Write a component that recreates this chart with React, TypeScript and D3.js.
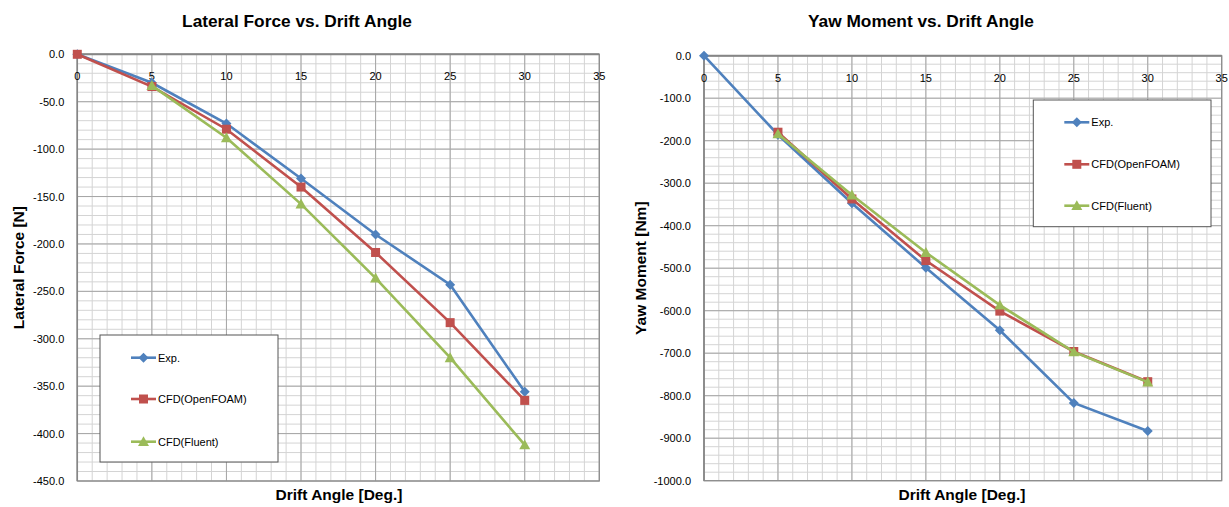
import React, { useEffect } from "react";
import * as d3 from "d3";

// ---------- data ----------
const driftAngles = [0, 5, 10, 15, 20, 25, 30];
const fluentAngles = [5, 10, 15, 20, 25, 30];

const lateralExp = [0, -30, -73, -131, -190, -243, -356];
const lateralOpenFOAM = [0, -34, -79, -140, -209, -283, -365];
const lateralFluent = [-33, -88, -158, -236, -320, -412];

const yawAngles = [5, 10, 15, 20, 25, 30];
const yawExp = [0, -186, -347, -499, -646, -817, -883];
const yawOpenFOAM = [-180, -337, -482, -601, -696, -767];
const yawFluent = [-184, -328, -463, -587, -697, -768];

const xTicks = [0, 5, 10, 15, 20, 25, 30, 35];
const lateralYTicks = [0, -50, -100, -150, -200, -250, -300, -350, -400, -450];
const yawYTicks = [0, -100, -200, -300, -400, -500, -600, -700, -800, -900, -1000];

const seriesNames = ["Exp.", "CFD(OpenFOAM)", "CFD(Fluent)"];
const colors = ["#4F81BD", "#C0504D", "#9BBB59"];

type Series = { name: string; xs: number[]; ys: number[]; color: string; marker: string };

const FONT = "'Liberation Sans', Arial, sans-serif";

function Marker({ kind, x, y, color }: { kind: string; x: number; y: number; color: string }) {
  if (kind === "diamond") {
    const r = 5;
    return <path d={`M${x},${y - r}L${x + r},${y}L${x},${y + r}L${x - r},${y}Z`} fill={color} />;
  }
  if (kind === "square") {
    const r = 4.5;
    return <rect x={x - r} y={y - r} width={2 * r} height={2 * r} fill={color} />;
  }
  const r = 5.5;
  return <path d={`M${x},${y - r}L${x + r},${y + r * 0.8}L${x - r},${y + r * 0.8}Z`} fill={color} />;
}

function Chart(props: {
  title: string; titleX: number; yLabel: string; yLabelX: number; xLabelX: number;
  x0: number; x1: number; y0: number; y1: number; yMin: number; yTicks: number[]; yMinor: number;
  series: Series[]; legend: { x: number; y: number; w: number; h: number; rows: number[] };
}) {
  const { x0, x1, y0, y1, yMin, yTicks, yMinor, series, legend } = props;
  const x = d3.scaleLinear().domain([0, 35]).range([x0, x1]);
  const y = d3.scaleLinear().domain([0, yMin]).range([y0, y1]);
  const minorX = d3.range(0, 36, 1);
  const minorY = d3.range(0, yMin - 0.001, -yMinor);
  const f = d3.format(".1f");
  const fmt = (v: number) => f(v).replace("\u2212", "-");
  const line = d3.line<[number, number]>().x((d) => x(d[0])).y((d) => y(d[1]));
  return (
    <g>
      <text x={props.titleX} y={27} textAnchor="middle" fontFamily={FONT} fontWeight="bold" fontSize={17.3} fill="#000">{props.title}</text>
      {minorX.map((v) => (
        <line key={"mx" + v} x1={x(v)} x2={x(v)} y1={y0} y2={y1} stroke="#d4d4d4" strokeWidth={1} />
      ))}
      {minorY.map((v) => (
        <line key={"my" + v} x1={x0} x2={x1} y1={y(v)} y2={y(v)} stroke="#d4d4d4" strokeWidth={1} />
      ))}
      {xTicks.map((v) => (
        <line key={"Mx" + v} x1={x(v)} x2={x(v)} y1={y0} y2={y1} stroke="#a6a6a6" strokeWidth={1} />
      ))}
      {yTicks.map((v) => (
        <line key={"My" + v} x1={x0} x2={x1} y1={y(v)} y2={y(v)} stroke="#a6a6a6" strokeWidth={1} />
      ))}
      <rect x={x0} y={y0} width={x1 - x0} height={y1 - y0} fill="none" stroke="#8c8c8c" strokeWidth={1.2} />
      <line x1={x0} x2={x1} y1={y(0)} y2={y(0)} stroke="#868686" strokeWidth={2} />
      <line x1={x0} x2={x0} y1={y0} y2={y1} stroke="#868686" strokeWidth={1.5} />
      {xTicks.map((v) => (
        <text key={"xt" + v} x={x(v)} y={y0 + 26} textAnchor="middle" fontFamily={FONT} fontSize={11} fill="#000">{v}</text>
      ))}
      {yTicks.map((v) => (
        <text key={"yt" + v} x={x0 - 13} y={y(v) + 4} textAnchor="end" fontFamily={FONT} fontSize={11} fill="#000">{fmt(v)}</text>
      ))}
      <text x={props.xLabelX} y={500} textAnchor="middle" fontFamily={FONT} fontWeight="bold" fontSize={15.5} fill="#000">Drift Angle [Deg.]</text>
      <text transform={`translate(${props.yLabelX},${(y0 + y1) / 2}) rotate(-90)`} textAnchor="middle" fontFamily={FONT} fontWeight="bold" fontSize={15.5} fill="#000">{props.yLabel}</text>
      {series.map((s) => (
        <g key={s.name}>
          <path d={line(s.xs.map((v, i) => [v, s.ys[i]]) as [number, number][]) || ""} fill="none" stroke={s.color} strokeWidth={2.6} />
          {s.xs.map((v, i) => (
            <Marker key={i} kind={s.marker} x={x(v)} y={y(s.ys[i])} color={s.color} />
          ))}
        </g>
      ))}
      <rect x={legend.x} y={legend.y} width={legend.w} height={legend.h} fill="#fff" stroke="#555" strokeWidth={1} />
      {series.map((s, i) => (
        <g key={"lg" + s.name}>
          <line x1={legend.x + 31} x2={legend.x + 56} y1={legend.rows[i]} y2={legend.rows[i]} stroke={s.color} strokeWidth={2.6} />
          <Marker kind={s.marker} x={legend.x + 43.5} y={legend.rows[i]} color={s.color} />
          <text x={legend.x + 58} y={legend.rows[i] + 4} fontFamily={FONT} fontSize={11} fill="#000">{s.name}</text>
        </g>
      ))}
    </g>
  );
}

export default function App() {
  useEffect(() => {
    document.body.style.margin = "0";
  }, []);
  const markers = ["diamond", "square", "triangle"];
  const lateralSeries: Series[] = [
    { name: seriesNames[0], xs: driftAngles, ys: lateralExp, color: colors[0], marker: markers[0] },
    { name: seriesNames[1], xs: driftAngles, ys: lateralOpenFOAM, color: colors[1], marker: markers[1] },
    { name: seriesNames[2], xs: fluentAngles, ys: lateralFluent, color: colors[2], marker: markers[2] },
  ];
  const yawSeries: Series[] = [
    { name: seriesNames[0], xs: driftAngles, ys: yawExp, color: colors[0], marker: markers[0] },
    { name: seriesNames[1], xs: yawAngles, ys: yawOpenFOAM, color: colors[1], marker: markers[1] },
    { name: seriesNames[2], xs: yawAngles, ys: yawFluent, color: colors[2], marker: markers[2] },
  ];
  return (
    <svg width={1229} height={507} style={{ display: "block", background: "#fff" }}>
      <Chart
        title="Lateral Force vs. Drift Angle" titleX={297} yLabel="Lateral Force [N]" yLabelX={24} xLabelX={339}
        x0={77.3} x1={599.3} y0={54.3} y1={481} yMin={-450} yTicks={lateralYTicks} yMinor={10}
        series={lateralSeries}
        legend={{ x: 100, y: 335, w: 178, h: 127, rows: [357.7, 399, 441.7] }}
      />
      <Chart
        title="Yaw Moment vs. Drift Angle" titleX={921} yLabel="Yaw Moment [Nm]" yLabelX={646} xLabelX={962}
        x0={704} x1={1221.7} y0={55.7} y1={480.7} yMin={-1000} yTicks={yawYTicks} yMinor={20}
        series={yawSeries}
        legend={{ x: 1033.3, y: 100, w: 177.7, h: 126.7, rows: [122.3, 164.3, 205.7] }}
      />
    </svg>
  );
}
